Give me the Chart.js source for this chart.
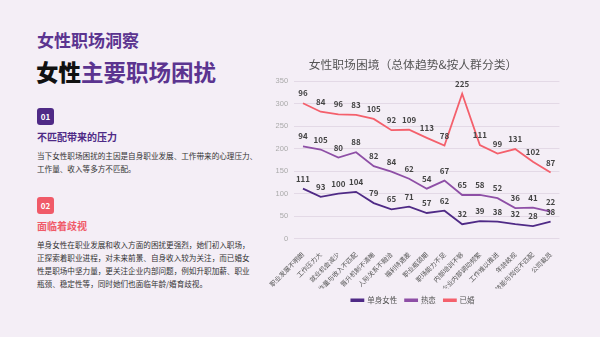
<!DOCTYPE html>
<html>
<head>
<meta charset="utf-8">
<script src="https://cdn.jsdelivr.net/npm/chart.js@4"></script>
<style>
  body { margin: 0; width: 600px; height: 337px; background: #f4eef6; font-family: "Noto Sans CJK SC", sans-serif; overflow: hidden; position: relative; }
  .kicker { position: absolute; left: 37px; top: 28px; font-size: 17px; line-height: 24px; font-weight: bold; color: #5b3490; }
  .headline { position: absolute; left: 36px; top: 56px; font-size: 22.5px; line-height: 30px; font-weight: bold; color: #5b3490; }
  .headline b { color: #111; }
  .badge { position: absolute; left: 37px; width: 17px; height: 17px; border-radius: 3px; color: #fff; font-size: 8px; font-weight: bold; text-align: center; line-height: 17px; }
  .sub { position: absolute; left: 37px; font-size: 10px; line-height: 14px; font-weight: bold; }
  .body { position: absolute; left: 37px; font-size: 7.6px; color: #333; line-height: 13px; white-space: nowrap; }
  #box { position: absolute; left: 266px; top: 57px; width: 294px; height: 257px; }
</style>
</head>
<body>
<div class="kicker">女性职场洞察</div>
<div class="headline"><b>女性</b>主要职场困扰</div>

<div class="badge" style="top:108px;background:#4f2a86;">01</div>
<div class="sub" style="top:130px;color:#4f2a86;">不匹配带来的压力</div>
<div class="body" style="top:149px;">当下女性职场困扰的主因是自身职业发展、工作带来的心理压力、<br>工作量、收入等多方不匹配。</div>

<div class="badge" style="top:197px;background:#f05a68;">02</div>
<div class="sub" style="top:219px;color:#f05a68;">面临着歧视</div>
<div class="body" style="top:238px;">单身女性在职业发展和收入方面的困扰更强烈，她们初入职场，<br>正探索着职业进程，对未来前景、自身收入较为关注，而已婚女<br>性是职场中坚力量，更关注企业内部问题，例如升职加薪、职业<br>瓶颈、稳定性等，同时她们也面临年龄/婚育歧视。</div>

<div id="box"><canvas id="grafico"></canvas></div>

<script>
// categorias do eixo x
const categorias = ['职业发展不明朗', '工作压力大', '就业机会减少', '工作量与收入不匹配', '晋升机制不清晰',
    '人际关系不融洽', '福利待遇差', '职业瓶颈期', '职场能力不足', '内部培训不够',
    '企业内部调动频繁', '工作难以推进', '年龄歧视', '技能与岗位不匹配', '公司裁员'];

// valores de cada grupo (empilhados)
const solteiras = [111, 93, 100, 104, 79, 65, 71, 57, 62, 32, 39, 38, 32, 28, 38];
const namorando = [94, 105, 80, 88, 82, 84, 62, 54, 67, 65, 58, 52, 36, 41, 22];
const casadas = [96, 84, 96, 83, 105, 92, 109, 113, 78, 225, 111, 99, 131, 102, 87];

// plugin simples para escrever o valor em cima de cada ponto
const rotulosPlugin = {
    id: 'rotulos',
    afterDatasetsDraw(chart) {
        const ctx = chart.ctx;
        ctx.save();
        ctx.font = 'bold 8px "Noto Sans CJK SC", sans-serif';
        ctx.fillStyle = '#444';
        ctx.textAlign = 'center';
        ctx.textBaseline = 'bottom';
        chart.data.datasets.forEach((ds, i) => {
            const meta = chart.getDatasetMeta(i);
            meta.data.forEach((pt, j) => {
                ctx.fillText(ds.data[j], pt.x, pt.y - 6);
            });
        });
        ctx.restore();
    }
};

const ctx = document.getElementById('grafico').getContext('2d');
new Chart(ctx, {
    type: 'line',
    data: {
        labels: categorias,
        datasets: [
            { label: '单身女性', data: solteiras, borderColor: '#4f2a86', backgroundColor: '#4f2a86', borderWidth: 1.8, pointRadius: 0, fill: false },
            { label: '热恋', data: namorando, borderColor: '#8e4fa6', backgroundColor: '#8e4fa6', borderWidth: 1.8, pointRadius: 0, fill: false },
            { label: '已婚', data: casadas, borderColor: '#f4606c', backgroundColor: '#f4606c', borderWidth: 1.8, pointRadius: 0, fill: false },
        ],
    },
    options: {
        responsive: true,
        maintainAspectRatio: false,
        animation: false,
        plugins: {
            title: {
                display: true,
                text: '女性职场困境（总体趋势&按人群分类）',
                color: '#555',
                font: { size: 11.8, weight: 'normal', family: '"Noto Sans CJK SC", sans-serif' },
                padding: { top: 0, bottom: 10 },
            },
            legend: {
                display: true,
                position: 'bottom',
                labels: {
                    boxWidth: 12,
                    boxHeight: 1.5,
                    padding: 8,
                    color: '#555',
                    font: { size: 7.5, family: '"Noto Sans CJK SC", sans-serif' },
                },
            },
            tooltip: { enabled: false },
        },
        scales: {
            x: {
                offset: true,
                grid: { display: false },
                border: { display: false },
                ticks: {
                    color: '#555',
                    font: { size: 6.5, family: '"Noto Sans CJK SC", sans-serif' },
                    maxRotation: 45,
                    minRotation: 45,
                    autoSkip: false,
                    padding: 4,
                },
                // tira um pouco do espaço que o chart.js reserva para os rótulos inclinados
                afterFit: (scale) => { scale.height = scale.height - 13; },
            },
            y: {
                stacked: true,
                min: 0,
                max: 350,
                ticks: {
                    stepSize: 50,
                    color: '#aaa',
                    font: { size: 7.5 },
                    padding: 6,
                },
                grid: { color: '#e3d9e6', drawTicks: false },
                border: { display: false },
            },
        },
    },
    plugins: [rotulosPlugin],
});
</script>
</body>
</html>
